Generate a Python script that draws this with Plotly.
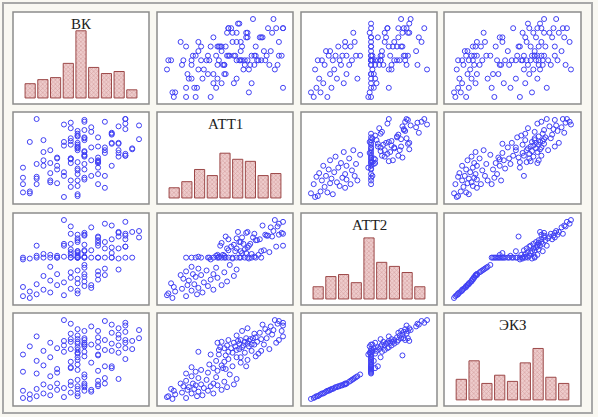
import numpy as np
import plotly.graph_objects as go
from plotly.subplots import make_subplots

names = ["ВК", "АТТ1", "АТТ2", "ЭКЗ"]

vk = [7, 2, 32, 12, 42, 22, 7, 42, 17, 37, 52, 2, 47, 27, 52, 12, 42, 32, 47, 22,
      57, 42, 37, 47, 17, 57, 62, 27, 47, 37, 57, 42, 72, 62, 47, 22, 47,
      12, 27, 2, 57, 42, 27, 67, 37, 62, 17, 42, 52, 37, 42, 77, 22, 47, 57, 42, 67,
      82, 47,
      37, 67, 12, 42, 57, 2, 42, 72, 47, 32, 17, 62, 42, 37, 77, 27, 42, 57, 7, 47,
      72, 32, 47, 52, 67, 42, 22, 77, 47, 37, 57, 42, 82, 32, 47, 62, 77, 42, 37, 72,
      47, 87, 57, 12, 42, 72, 37, 67, 77, 47, 57, 87, 42, 72, 52, 77, 67, 37, 77, 62,
      32]
att1 = [8, 18, 4, 26, 5, 30, 10, 22, 38, 15, 27, 9, 34, 19, 44, 24, 7, 31, 48, 20,
        36, 16, 41, 25, 53, 29, 14, 38, 23, 46, 18, 33, 55, 27, 40, 22, 50,
        18, 34, 25, 41, 29, 47, 38, 22, 52, 44, 35, 58, 46, 63, 49, 55, 69, 42, 61, 73,
        57, 66,
        45, 62, 40, 58, 47, 36, 71, 52, 49, 27, 66, 55, 42, 79, 51, 46, 59, 43, 64, 54,
        48, 60, 68, 75, 63, 57, 41, 84, 53, 61, 44, 70, 56, 64, 86, 58, 49, 73, 65, 62,
        77, 67, 69, 89, 55, 81, 68, 72, 78, 88, 59, 82, 76, 63, 80, 89, 74, 85, 89, 86,
        83]
att2 = [3, 5, 6, 7, 8, 9, 10, 11, 12, 13, 14, 15, 16, 17, 17, 18, 19, 20, 21, 22,
        23, 24, 25, 26, 27, 28, 28, 29, 29, 31, 32, 33, 34, 35, 36, 37, 39,
        47, 47, 47, 47, 47, 47, 47, 47, 47, 47, 47, 47, 47, 47, 47, 47, 47, 47, 47, 47,
        47, 47,
        50, 52, 49, 54, 70, 45, 50, 46, 55, 48, 51, 57, 48, 53, 59, 49, 52, 60, 46, 54,
        57, 62, 48, 55, 58, 64, 50, 59, 61, 56, 63, 66, 75, 60, 72, 64, 67, 54, 62, 74,
        71, 69, 66, 60, 68, 70, 73, 67, 71, 74, 69, 76, 72, 75, 80, 73, 82, 81, 86, 84,
        88]
ekz = [2, 3, 4, 5, 5, 6, 7, 8, 8, 9, 10, 11, 11, 12, 12, 13, 13, 14, 15, 15,
       16, 16, 17, 17, 18, 18, 19, 19, 19, 21, 22, 23, 24, 25, 26, 27, 29,
       30, 31, 32, 33, 34, 35, 36, 37, 38, 39, 40, 42, 43, 45, 46, 48, 49, 51, 53, 55,
       57, 62,
       36, 38, 44, 48, 50, 51, 52, 53, 54, 54, 55, 56, 56, 57, 58, 58, 59, 59, 60, 60,
       61, 61, 62, 62, 63, 63, 64, 64, 64, 65, 65, 65, 66, 66, 67, 67, 67, 68, 68, 69,
       69, 69, 70, 71, 72, 73, 74, 75, 76, 77, 77, 78, 79, 80, 82, 83, 84, 85, 86, 88,
       89]

data = [vk, att1, att2, ekz]

W, H = 598, 417
col_px = [(13, 149), (157, 293), (301, 437), (444, 581)]
row_px = [(12, 104), (112, 204), (213, 305), (313, 406)]

edges = np.arange(0, 100, 10)
top_count = max(np.histogram(v, bins=edges)[0].max() for v in data)

fig = make_subplots(rows=4, cols=4)

for i in range(4):
    for j in range(4):
        k = i * 4 + j + 1
        xa = "xaxis" if k == 1 else f"xaxis{k}"
        ya = "yaxis" if k == 1 else f"yaxis{k}"
        if i == j:
            fig.add_trace(go.Histogram(
                x=data[i], xbins=dict(start=0, end=90, size=10),
                marker=dict(color="#eecccc",
                            line=dict(color="#9c4848", width=1),
                            pattern=dict(shape="x", fgcolor="#c07c7c", size=3, solidity=0.4))),
                row=i + 1, col=j + 1)
            xr = [-8.5, 98.5]
            yr = [-0.09 * top_count, 1.28 * top_count]
            fig.add_annotation(text=names[i], showarrow=False,
                               xref=f"x{'' if k == 1 else k} domain",
                               yref=f"y{'' if k == 1 else k} domain",
                               x=0.5, y=0.875, xanchor="center", yanchor="middle",
                               font=dict(family="Liberation Serif", size=15, color="#222"))
        else:
            fig.add_trace(go.Scatter(
                x=data[j], y=data[i], mode="markers",
                marker=dict(symbol="circle-open", size=5, color="#4040f4",
                            line=dict(width=1, color="#4040f4"))),
                row=i + 1, col=j + 1)
            xs, ys = data[j], data[i]
            px = 0.086 * (max(xs) - min(xs))
            py = 0.09 * (max(ys) - min(ys))
            xr = [min(xs) - px, max(xs) + px]
            yr = [min(ys) - py, max(ys) + py]
        c0, c1 = col_px[j]
        r0, r1 = row_px[i]
        fig.layout[xa].update(domain=[c0 / W, c1 / W], range=xr, showticklabels=False,
                              showgrid=False, zeroline=False, ticks="")
        fig.layout[ya].update(domain=[1 - r1 / H, 1 - r0 / H], range=yr, showticklabels=False,
                              showgrid=False, zeroline=False, ticks="")
        fig.add_shape(type="rect", xref="paper", yref="paper",
                      x0=c0 / W, x1=c1 / W, y0=1 - r1 / H, y1=1 - r0 / H,
                      line=dict(color="#8c8c8c", width=1.5))

# outer window frame
fig.add_shape(type="rect", xref="paper", yref="paper",
              x0=3 / W, x1=592 / W, y0=1 - 413 / H, y1=1 - 3 / H,
              line=dict(color="#a8a8a8", width=2))

fig.update_layout(width=W, height=H, margin=dict(l=0, r=0, t=0, b=0),
                  paper_bgcolor="#f9f8f2", plot_bgcolor="white",
                  showlegend=False, bargap=0.2)

fig.write_html("out.html", config={"displayModeBar": False},
               post_script="document.body.style.margin='0px';")
